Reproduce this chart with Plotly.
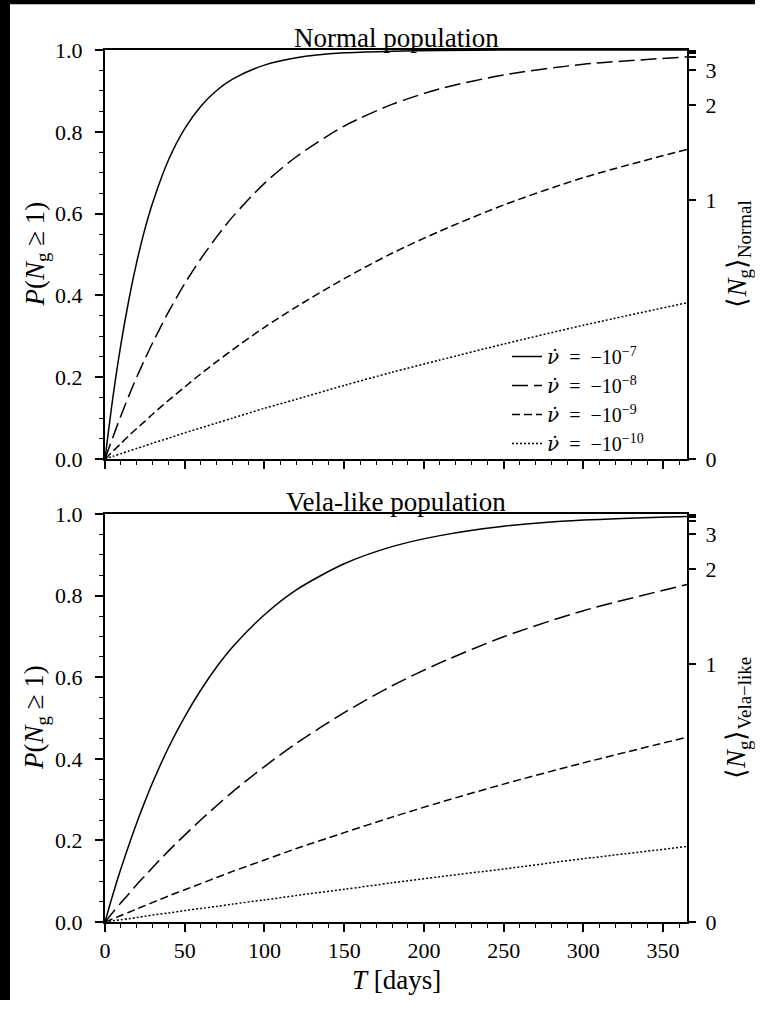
import numpy as np
import plotly.graph_objects as go

# ---------------- data ----------------
T_days = [0, 5, 10, 15, 20, 25, 30, 40, 50, 60, 70, 80, 100, 120, 150, 180, 210, 250, 300, 365]

labels = ["−10<sup>−7</sup>", "−10<sup>−8</sup>", "−10<sup>−9</sup>", "−10<sup>−10</sup>"]

normal_1e7 = [0, 0.152, 0.281, 0.390, 0.483, 0.562, 0.628, 0.733, 0.808, 0.862, 0.901, 0.929,
              0.963, 0.981, 0.993, 0.997, 0.999, 1.000, 1.000, 1.000]
normal_1e8 = [0, 0.054, 0.106, 0.155, 0.201, 0.244, 0.285, 0.361, 0.429, 0.489, 0.543, 0.592,
              0.674, 0.739, 0.814, 0.867, 0.905, 0.939, 0.965, 0.983]
normal_1e9 = [0, 0.019, 0.038, 0.057, 0.075, 0.092, 0.110, 0.144, 0.176, 0.208, 0.238, 0.267,
              0.322, 0.372, 0.441, 0.503, 0.557, 0.621, 0.688, 0.757]
normal_1e10 = [0, 0.0066, 0.013, 0.0196, 0.026, 0.032, 0.039, 0.051, 0.064, 0.076, 0.088, 0.100,
               0.124, 0.146, 0.180, 0.212, 0.242, 0.281, 0.327, 0.382]

vela_1e7 = [0, 0.068, 0.131, 0.189, 0.244, 0.295, 0.343, 0.429, 0.503, 0.568, 0.625, 0.674,
            0.753, 0.814, 0.878, 0.920, 0.947, 0.970, 0.985, 0.994]
vela_1e8 = [0, 0.024, 0.047, 0.069, 0.092, 0.113, 0.134, 0.175, 0.213, 0.250, 0.285, 0.319,
            0.381, 0.438, 0.513, 0.579, 0.635, 0.699, 0.763, 0.827]
vela_1e9 = [0, 0.008, 0.016, 0.024, 0.032, 0.040, 0.048, 0.064, 0.079, 0.094, 0.109, 0.124,
            0.152, 0.180, 0.219, 0.257, 0.293, 0.338, 0.390, 0.453]
vela_1e10 = [0, 0.003, 0.0056, 0.008, 0.011, 0.014, 0.017, 0.022, 0.028, 0.033, 0.038, 0.044,
             0.054, 0.065, 0.080, 0.096, 0.111, 0.130, 0.155, 0.185]

x_ticks = [0, 50, 100, 150, 200, 250, 300, 350]
p_ticks = [0.0, 0.2, 0.4, 0.6, 0.8, 1.0]
n_ticks = [0, 1, 2, 3, 4, 5, 6]
n_tick_labels = ["0", "1", "2", "3", "", "", ""]

# ---------------- styling ----------------
FONT = "Liberation Serif"
dashes = ["solid", "16px,6px", "8px,4px", "2px,2px"]
LW = 1.5

W, H = 755, 1000
ML, MT = 105, 50
PR, PB = 687, 922          # right / bottom edge of plot area in px
MR, MB = W - PR, H - PB
PW, PH = PR - ML, PB - MT

fig = go.Figure()

normal = [normal_1e7, normal_1e8, normal_1e9, normal_1e10]
vela = [vela_1e7, vela_1e8, vela_1e9, vela_1e10]

nudot = "<span style='font-family:DejaVu Serif'><i>ν̇</i></span>"

for i, ys in enumerate(normal):
    fig.add_trace(go.Scatter(
        x=T_days, y=ys, mode="lines", xaxis="x", yaxis="y",
        line=dict(color="black", width=LW, dash=dashes[i], shape="spline", smoothing=0.8),
        name=nudot + " &nbsp;= &nbsp;" + labels[i], showlegend=True))
for i, ys in enumerate(vela):
    fig.add_trace(go.Scatter(
        x=T_days, y=ys, mode="lines", xaxis="x2", yaxis="y2",
        line=dict(color="black", width=LW, dash=dashes[i], shape="spline", smoothing=0.8),
        showlegend=False))

# invisible traces so the right-hand axes render
fig.add_trace(go.Scatter(x=[0], y=[0], xaxis="x", yaxis="y3", mode="markers",
                         marker=dict(opacity=0), showlegend=False, hoverinfo="skip"))
fig.add_trace(go.Scatter(x=[0], y=[0], xaxis="x2", yaxis="y4", mode="markers",
                         marker=dict(opacity=0), showlegend=False, hoverinfo="skip"))

n_pos = [1 - np.exp(-n) for n in n_ticks]

tickfont = dict(family=FONT, size=22, color="black")

xaxis_common = dict(
    range=[0, 365], tickvals=x_ticks, ticks="outside", ticklen=8, tickwidth=1.6,
    tickcolor="black", showline=True, linecolor="black", linewidth=2, mirror=True,
    showgrid=False, zeroline=False, tickfont=tickfont,
    minor=dict(dtick=10, tick0=0, ticks="outside", ticklen=4, tickwidth=1.3, tickcolor="black"),
)
yaxis_common = dict(
    range=[0, 1], tickvals=p_ticks, tickformat=".1f", ticks="outside", ticklen=8, tickwidth=1.6,
    tickcolor="black", showline=True, linecolor="black", linewidth=2, mirror=True,
    showgrid=False, zeroline=False, tickfont=tickfont, ticklabelstandoff=8,
    minor=dict(dtick=0.05, tick0=0, ticks="outside", ticklen=4, tickwidth=1.3, tickcolor="black"),
)
right_common = dict(
    range=[0, 1], tickvals=n_pos, ticktext=n_tick_labels, ticks="outside", ticklen=8,
    tickwidth=1.6, tickcolor="black", showline=False, showgrid=False, zeroline=False,
    side="right", tickfont=tickfont, ticklabelstandoff=5,
)

def py2paper(py):
    return (PB - py) / PH

def px2paper(px):
    return (px - ML) / PW

top_dom = [py2paper(459), 1.0]
bot_dom = [0.0, py2paper(514)]

fig.update_layout(
    width=W, height=H,
    margin=dict(l=ML, r=MR, t=MT, b=MB),
    paper_bgcolor="white", plot_bgcolor="white",
    font=dict(family=FONT, color="black"),
    xaxis=dict(**xaxis_common, domain=[0, 1], anchor="y", showticklabels=False),
    yaxis=dict(**yaxis_common, domain=top_dom, anchor="x"),
    yaxis3=dict(**right_common, overlaying="y", anchor="x"),
    xaxis2=dict(**xaxis_common, domain=[0, 1], anchor="y2"),
    yaxis2=dict(**yaxis_common, domain=bot_dom, anchor="x2"),
    yaxis4=dict(**right_common, overlaying="y2", anchor="x2"),
    legend=dict(x=px2paper(507), y=py2paper(337), xanchor="left", yanchor="top",
                bgcolor="rgba(0,0,0,0)", font=dict(family=FONT, size=20, color="black"),
                tracegroupgap=0, itemwidth=30),
    showlegend=True,
)

# black strips along the left and top edges, as in the reference
fig.add_shape(type="rect", xref="paper", yref="paper", layer="above",
              x0=px2paper(0), x1=px2paper(10), y0=py2paper(H + 20), y1=py2paper(-20),
              fillcolor="black", line=dict(width=0))
fig.add_shape(type="rect", xref="paper", yref="paper", layer="above",
              x0=px2paper(-20), x1=px2paper(W + 20), y0=py2paper(4.3), y1=py2paper(-20),
              fillcolor="black", line=dict(width=0))

ann_font = dict(family=FONT, size=27, color="black")
fig.add_annotation(text="Normal population", xref="paper", yref="paper", x=0.5, y=1.0,
                   xanchor="center", yanchor="bottom", showarrow=False, font=ann_font, yshift=-5)
fig.add_annotation(text="Vela-like population", xref="paper", yref="paper", x=0.5, y=bot_dom[1],
                   xanchor="center", yanchor="bottom", showarrow=False, font=ann_font, yshift=-5)

lab_font = dict(family=FONT, size=27, color="black")
for dom, rlabel in [(top_dom, "Normal"), (bot_dom, "Vela−like")]:
    yc = (dom[0] + dom[1]) / 2
    fig.add_annotation(text="<i>P</i>(<i>N</i><sub>g</sub> ≥ 1)", xref="paper", yref="paper",
                       x=px2paper(36), y=yc, textangle=-90, showarrow=False,
                       xanchor="center", yanchor="middle", font=lab_font)
    fig.add_annotation(text="⟨<i>N</i><sub>g</sub>⟩<sub>" + rlabel + "</sub>", xref="paper", yref="paper",
                       x=px2paper(738), y=yc, textangle=-90, showarrow=False,
                       xanchor="center", yanchor="middle", font=lab_font)

fig.add_annotation(text="<i>T</i> [days]", xref="paper", yref="paper",
                   x=0.5, y=py2paper(980), showarrow=False,
                   xanchor="center", yanchor="middle", font=lab_font)

fig.write_html("out.html")
